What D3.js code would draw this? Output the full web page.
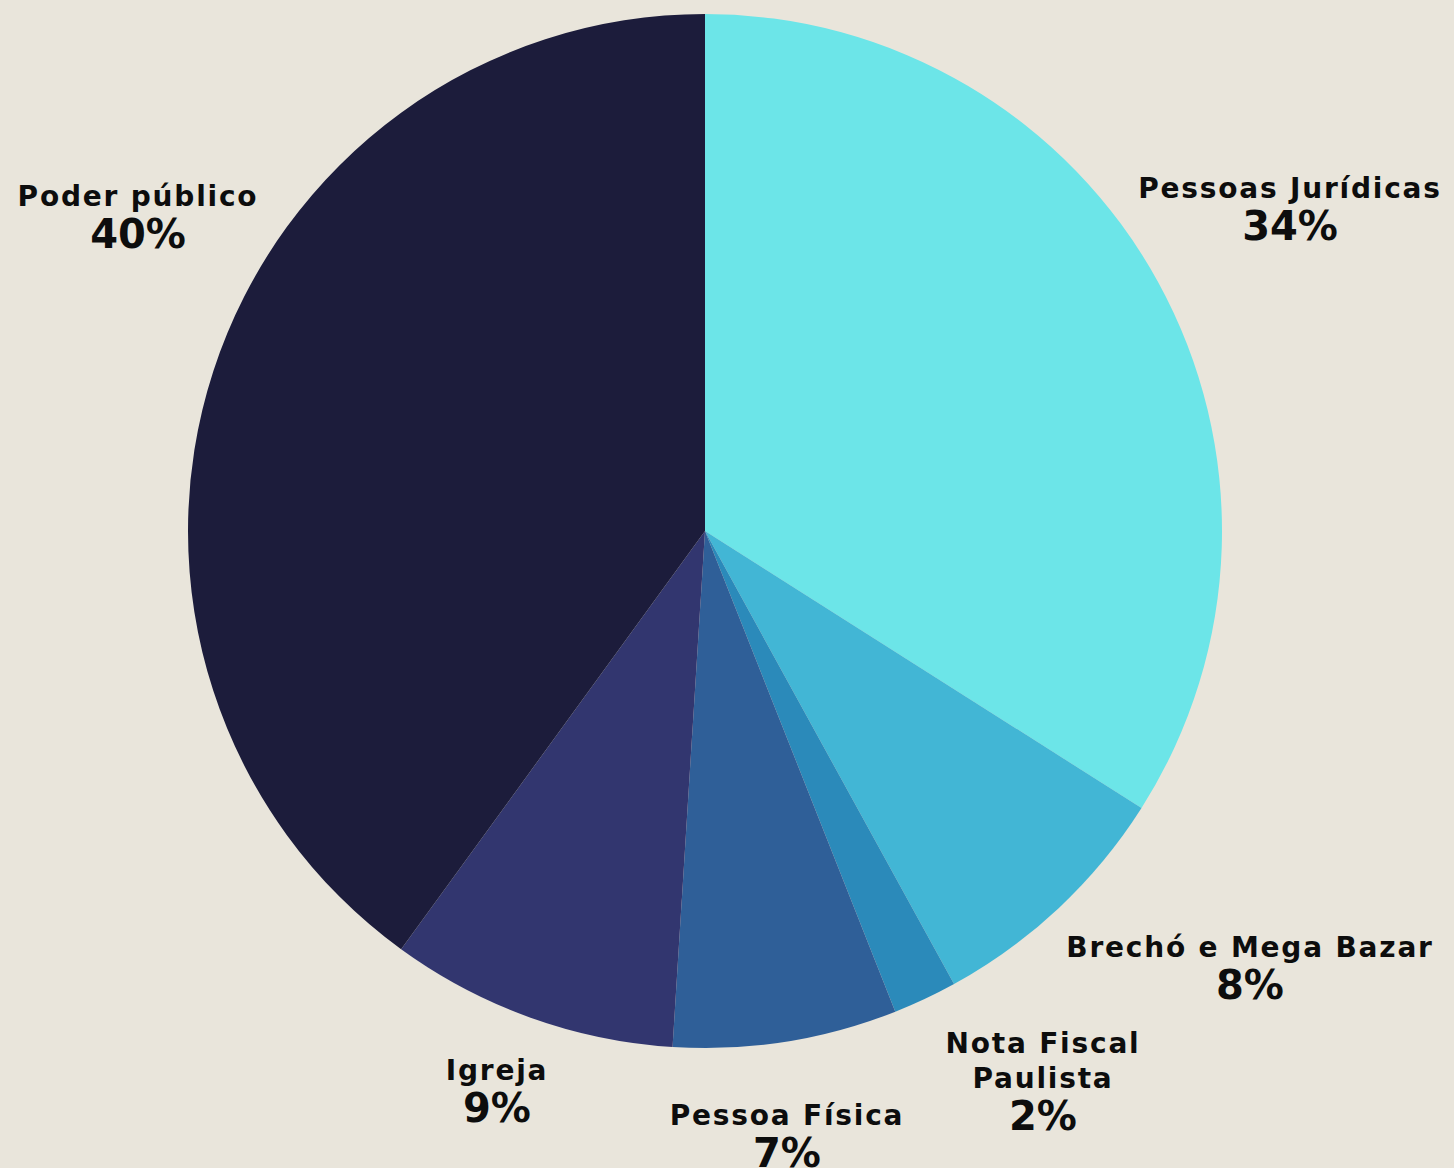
<!DOCTYPE html>
<html><head><meta charset="utf-8">
<script src="https://cdn.jsdelivr.net/npm/d3@7"></script>
<style>html,body{margin:0;padding:0;background:#e9e5db;}svg{display:block;}</style>
</head><body>
<svg id="chart" width="1454" height="1168"></svg>
<script>
const categories = ["Pessoas Jurídicas", "Brechó e Mega Bazar", "Nota Fiscal Paulista", "Pessoa Física", "Igreja", "Poder público"];
const values = [34, 8, 2, 7, 9, 40];
const colors = ["#6ce5e8", "#42b6d5", "#2b8aba", "#2f5f98", "#32366f", "#1c1c3b"];
const nameLines = [["Pessoas Jurídicas"], ["Brechó e Mega Bazar"], ["Nota Fiscal", "Paulista"], ["Pessoa Física"], ["Igreja"], ["Poder público"]];
// label anchor layout (center x, first-line baseline y)
const labelPos = [[1290, 198], [1250, 957], [1043, 1053], [787, 1125], [497, 1080], [138, 206]];

const svg = d3.select("#chart");
const W = 1454, H = 1168, cx = 705, cy = 531, R = 517;
svg.append("rect").attr("width", W).attr("height", H).attr("fill", "#e9e5db");
const g = svg.append("g").attr("transform", `translate(${cx},${cy})`);
const pie = d3.pie().sort(null).value(d => d.v);
const arc = d3.arc().innerRadius(0).outerRadius(R);
const data = categories.map((c, i) => ({c, v: values[i], i}));
g.selectAll("path").data(pie(data)).join("path")
  .attr("d", arc).attr("fill", d => colors[d.data.i]);

const lab = svg.append("g").attr("font-family", "DejaVu Sans, sans-serif").attr("font-weight", "bold").attr("text-anchor", "middle").attr("fill", "#0d0d0d");
data.forEach((d, i) => {
  const [x, y] = labelPos[i];
  const lines = nameLines[i];
  lines.forEach((ln, k) => {
    lab.append("text").attr("x", x).attr("y", y + k * 35).attr("font-size", 28).attr("letter-spacing", 1.8).text(ln);
  });
  lab.append("text").attr("x", x).attr("y", y + (lines.length - 1) * 35 + 42).attr("font-size", 40).text(d.v + "%");
});
</script>
</body></html>
